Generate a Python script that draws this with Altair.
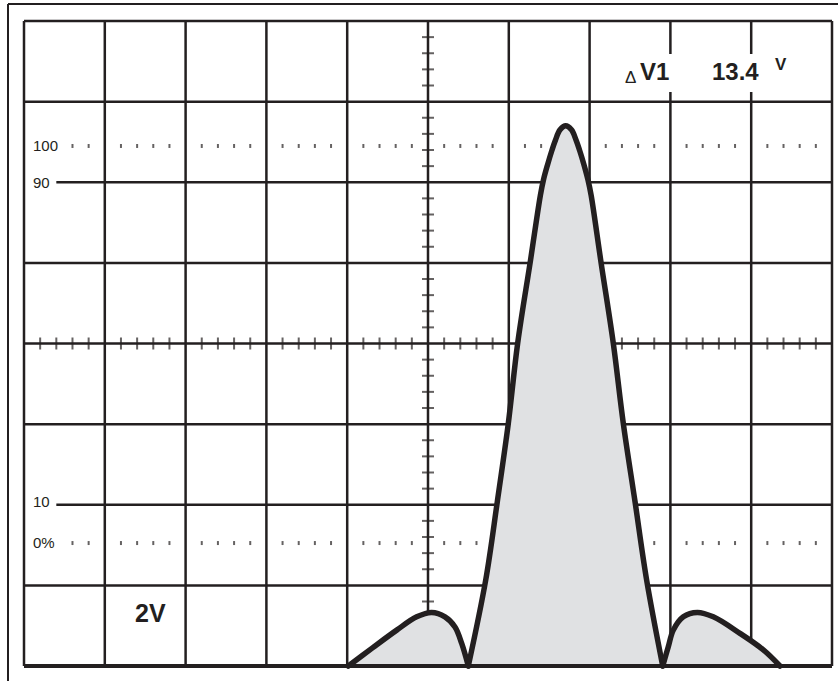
import altair as alt
import pandas as pd

INK = "#231f20"
FILL = "#e0e1e3"
FONT = "Liberation Sans"

# Graticule: 10 horizontal divisions, 8 vertical divisions at 2 V/div
grid_t = list(range(0, 11))
grid_v = list(range(0, 17, 2))

# Rise-time reference levels (V) drawn as dotted rows
level_100 = 12.9
level_0 = 3.05

# Waveform samples per lobe: time in divisions, amplitude in volts
lobe_left_t = [4.014, 4.313, 4.613, 4.86, 5.046, 5.21, 5.334, 5.417, 5.499]
lobe_left_v = [0.0, 0.45, 0.89, 1.22, 1.33, 1.22, 0.97, 0.56, 0.0]

lobe_main_t = [5.499, 5.714, 5.858, 5.994, 6.11, 6.269, 6.391, 6.429, 6.479,
               6.535, 6.578, 6.634, 6.704, 6.776, 6.832, 6.875, 6.931, 6.98,
               7.019, 7.141, 7.293, 7.417, 7.562, 7.706, 7.905]
lobe_main_v = [0.0, 2.13, 4.08, 6.02, 8.01, 10.07, 11.68, 12.06, 12.43,
               12.80, 13.05, 13.30, 13.4, 13.30, 13.05, 12.80, 12.43, 12.06,
               11.68, 10.02, 8.01, 6.02, 4.08, 2.13, 0.0]

lobe_right_t = [7.905, 7.974, 8.036, 8.16, 8.333, 8.531, 8.861, 9.15, 9.356]
lobe_right_v = [0.0, 0.48, 0.89, 1.22, 1.33, 1.22, 0.81, 0.40, 0.0]

W, H = 808, 645
xs = alt.Scale(domain=[0, 10], nice=False, zero=False)
ys = alt.Scale(domain=[0, 16], nice=False, zero=False)

# Grid lines
vgrid = pd.DataFrame({"t": grid_t})
label_gap = 0.4
hgrid = pd.DataFrame({
    "v": grid_v,
    "t0": [label_gap if v in (4, 12) else 0 for v in grid_v],
    "t1": [10] * len(grid_v),
})

vlines = alt.Chart(vgrid).mark_rule(color=INK, strokeWidth=2.5).encode(
    x=alt.X("t:Q", scale=xs, axis=None),
    y=alt.value(0), y2=alt.value(H))
hlines = alt.Chart(hgrid).mark_rule(color=INK, strokeWidth=2.5).encode(
    x=alt.X("t0:Q", scale=xs, axis=None), x2="t1:Q",
    y=alt.Y("v:Q", scale=ys, axis=None))

# Dotted 0% / 100% rows (minor division marks, skipping grid lines and label area)
dot_t = [k / 5 for k in range(3, 50) if k % 5]
dots = pd.DataFrame({
    "t": dot_t * 2,
    "v": [level_100] * len(dot_t) + [level_0] * len(dot_t),
})
dot_marks = alt.Chart(dots).mark_tick(color=INK, orient="vertical", size=4, thickness=2).encode(
    x=alt.X("t:Q", scale=xs, axis=None), y=alt.Y("v:Q", scale=ys, axis=None))

# Minor ticks on the centre axes
htick = pd.DataFrame({"t": [k / 5 for k in range(1, 50) if k % 5], "v": 8})
vtick = pd.DataFrame({"t": 5, "v": [k * 0.4 for k in range(1, 40) if k % 5]})
htick_marks = alt.Chart(htick).mark_tick(color=INK, orient="vertical", size=12, thickness=2).encode(
    x=alt.X("t:Q", scale=xs, axis=None), y=alt.Y("v:Q", scale=ys, axis=None))
vtick_marks = alt.Chart(vtick).mark_tick(color=INK, orient="horizontal", size=12, thickness=2).encode(
    x=alt.X("t:Q", scale=xs, axis=None), y=alt.Y("v:Q", scale=ys, axis=None))

# Waveform, one smooth segment per lobe
wave = pd.concat([
    pd.DataFrame({"t": lobe_left_t, "v": lobe_left_v, "lobe": "left"}),
    pd.DataFrame({"t": lobe_main_t, "v": lobe_main_v, "lobe": "main"}),
    pd.DataFrame({"t": lobe_right_t, "v": lobe_right_v, "lobe": "right"}),
], ignore_index=True)

area = alt.Chart(wave).mark_area(color=FILL, interpolate="catmull-rom").encode(
    x=alt.X("t:Q", scale=xs, axis=None),
    y=alt.Y("v:Q", scale=ys, axis=None, stack=None),
    detail="lobe:N")
line = alt.Chart(wave).mark_line(color=INK, strokeWidth=5.5, interpolate="catmull-rom",
                                 strokeJoin="round", strokeCap="round").encode(
    x=alt.X("t:Q", scale=xs, axis=None),
    y=alt.Y("v:Q", scale=ys, axis=None),
    detail="lobe:N")

# Heavier bottom edge of the graticule
bottom = alt.Chart(pd.DataFrame({"v": [0]})).mark_rule(color=INK, strokeWidth=4).encode(
    x=alt.value(0), x2=alt.value(W), y=alt.Y("v:Q", scale=ys, axis=None))

# Readout background
readout_bg = alt.Chart(pd.DataFrame({"a": [0]})).mark_rect(color="white").encode(
    x=alt.value(580), x2=alt.value(770), y=alt.value(33), y2=alt.value(71))


def label(text, x, y, size, bold=False, baseline="alphabetic"):
    return alt.Chart(pd.DataFrame({"s": [text]})).mark_text(
        font=FONT, fontSize=size, fontWeight="bold" if bold else "normal",
        color=INK, align="left", baseline=baseline).encode(
        text="s:N", x=alt.value(x), y=alt.value(y))


texts = [
    label("100", 9, 125, 15, baseline="middle"),
    label("90", 9, 162, 15, baseline="middle"),
    label("10", 9, 481, 15, baseline="middle"),
    label("0%", 9, 522, 15, baseline="middle"),
    label("2V", 111, 601, 25, bold=True),
    label("\u0394", 601, 62, 17),
    label("V1", 616, 59, 24, bold=True),
    label("13.4", 688, 59, 24, bold=True),
    label("V", 751, 49, 17, bold=True),
]

# Outer bezel lines (left and top)
bezel = alt.Chart(pd.DataFrame({"a": [0]}))
bezel_left = bezel.mark_rule(color=INK, strokeWidth=2).encode(
    x=alt.value(-16), y=alt.value(-17), y2=alt.value(H + 20))
bezel_top = bezel.mark_rule(color=INK, strokeWidth=2).encode(
    x=alt.value(-16), x2=alt.value(W + 10), y=alt.value(-17))

chart = alt.layer(
    vlines, hlines, dot_marks, htick_marks, vtick_marks,
    area, bottom, line, readout_bg, *texts, bezel_left, bezel_top,
).properties(
    width=W, height=H,
    padding={"left": 24, "top": 21, "right": 6, "bottom": 15},
    autosize=alt.AutoSizeParams(type="none"),
    background="white",
).configure_view(stroke=None)

chart.save("out.html", embed_options={"renderer": "svg", "actions": False})
